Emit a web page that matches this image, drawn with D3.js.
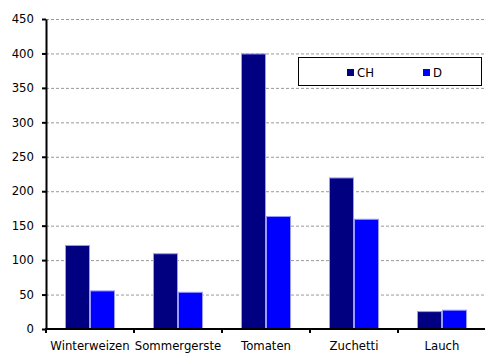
<!DOCTYPE html>
<html><head><meta charset="utf-8">
<script src="https://cdn.jsdelivr.net/npm/d3@7"></script>
<style>
html,body{margin:0;padding:0;background:#fff;}
svg{display:block;}
text{font-family:"DejaVu Sans",Verdana,sans-serif;font-size:11.7px;fill:#000;}
</style></head>
<body>
<script>
const categories = ["Winterweizen","Sommergerste","Tomaten","Zuchetti","Lauch"];
const seriesNames = ["CH","D"];
const valuesCH = [122, 110, 400, 220, 26];
const valuesD = [56, 54, 164, 160, 28];
const yTicks = [0,50,100,150,200,250,300,350,400,450];
const colors = {CH:"#000080", D:"#0000ff"};

const W = 485, H = 353;
const svg = d3.select("body").append("svg").attr("width", W).attr("height", H);

const x0 = d3.scaleBand().domain(categories).range([46, 486]).paddingInner(0).paddingOuter(0);
const x1 = d3.scaleBand().domain(seriesNames).range([19, 69]);
const y = d3.scaleLinear().domain([0,450]).range([329, 19]);

// gridlines
svg.append("g").selectAll("line").data(yTicks.filter(d=>d>0)).join("line")
  .attr("x1", 46).attr("x2", 486)
  .attr("y1", d=>y(d)+0.5).attr("y2", d=>y(d)+0.5)
  .attr("stroke", "#999").attr("stroke-width", 1).attr("stroke-dasharray", "3,2");

// bars
const data = categories.map((c,i)=>({cat:c, CH:valuesCH[i], D:valuesD[i]}));
const g = svg.append("g");
data.forEach(d=>{
  seriesNames.forEach(s=>{
    g.append("rect")
      .attr("x", x0(d.cat)+x1(s)+0.5)
      .attr("y", y(d[s])+0.5)
      .attr("width", x1.bandwidth()-1)
      .attr("height", y(0)-y(d[s]))
      .attr("fill", colors[s])
      .attr("stroke", "#9999ff").attr("stroke-width", 1);
  });
});

// y axis
const yAxis = d3.axisLeft(y).tickValues(yTicks).tickSize(4).tickPadding(8).tickSizeOuter(0);
const ya = svg.append("g").attr("transform","translate(46,0)").call(yAxis);
ya.select(".domain").attr("stroke","#000").attr("stroke-width",2);
ya.selectAll(".tick line").attr("stroke","#000").attr("stroke-width",2);
ya.selectAll("text").style("font-size","11.7px").style("font-family","'DejaVu Sans',Verdana,sans-serif");

// x axis
const xa = svg.append("g").attr("transform","translate(0,329)");
xa.append("line").attr("x1",45).attr("x2",486).attr("y1",0).attr("y2",0).attr("stroke","#000").attr("stroke-width",2);
xa.selectAll(".xt").data(categories.concat([null])).join("line")
  .attr("x1",(d,i)=>46+i*x0.bandwidth()).attr("x2",(d,i)=>46+i*x0.bandwidth())
  .attr("y1",0).attr("y2",4).attr("stroke","#000").attr("stroke-width",2);
xa.selectAll(".xl").data(categories).join("text")
  .attr("x", d=>x0(d)+x0.bandwidth()/2).attr("y", 21)
  .attr("text-anchor","middle").text(d=>d);

// legend
const lg = svg.append("g");
lg.append("rect").attr("x",298.5).attr("y",57.5).attr("width",183).attr("height",28)
  .attr("fill","#fff").attr("stroke","#000").attr("stroke-width",1);
const legendX = [347, 423];
seriesNames.forEach((s,i)=>{
  lg.append("rect").attr("x",legendX[i]).attr("y",69).attr("width",7).attr("height",7).attr("fill",colors[s]);
  lg.append("text").attr("x",legendX[i]+10).attr("y",77).text(s);
});
</script>
</body></html>
